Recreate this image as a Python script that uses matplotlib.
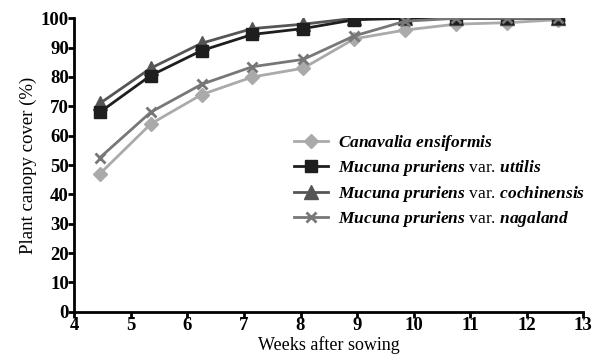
import matplotlib
matplotlib.use("Agg")
import matplotlib.pyplot as plt

weeks = [4.45, 5.35, 6.25, 7.15, 8.05, 8.95, 9.85, 10.75, 11.65, 12.55]
canavalia = [47, 64, 74, 80, 83, 93, 96, 98, 98.5, 99.5]
uttilis = [68, 80.5, 89, 94.5, 96.5, 99.5, 100, 100, 100, 100]
cochinensis = [71, 83, 91.5, 96.5, 98, 100, 100, 100, 100, 100]
nagaland = [52.5, 68, 77.5, 83.5, 86, 94, 99, 100, 100, 100]

labels = [
    r"$\mathit{Canavalia\ ensiformis}$",
    r"$\mathit{Mucuna\ pruriens}$ var. $\mathit{uttilis}$",
    r"$\mathit{Mucuna\ pruriens}$ var. $\mathit{cochinensis}$",
    r"$\mathit{Mucuna\ pruriens}$ var. $\mathit{nagaland}$",
]
xticks = list(range(4, 14))
yticks = list(range(0, 101, 10))

plt.rcParams['font.family'] = ['Liberation Serif', 'DejaVu Serif']
plt.rcParams['mathtext.fontset'] = 'custom'
plt.rcParams['mathtext.rm'] = 'Liberation Serif:bold'
plt.rcParams['mathtext.it'] = 'Liberation Serif:italic:bold'

fig = plt.figure(figsize=(6.1, 3.63), dpi=100)
ax = fig.add_axes([0.122, 0.1413, 0.834, 0.8083])

ax.plot(weeks, canavalia, color='#aaaaaa', lw=2, marker='D', ms=7, label=labels[0], zorder=3)
ax.plot(weeks, uttilis, color='#1e1e1e', lw=2, marker='s', ms=9, label=labels[1], zorder=4)
ax.plot(weeks, cochinensis, color='#555555', lw=2, marker='^', ms=10, label=labels[2], zorder=3)
ax.plot(weeks, nagaland, color='#777777', lw=2, marker='x', ms=7, mew=2, label=labels[3], zorder=5)

ax.set_xlim(4, 13)
ax.set_ylim(0, 100)
ax.set_xticks(xticks)
ax.set_yticks(yticks)
ax.tick_params(labelsize=13.5, width=2, length=4, direction='out')
for t in ax.get_xticklabels() + ax.get_yticklabels():
    t.set_fontweight('bold')
ax.spines['top'].set_visible(False)
ax.spines['right'].set_visible(False)
ax.spines['left'].set_linewidth(2)
ax.spines['bottom'].set_linewidth(2)
ax.tick_params(axis='x', pad=0)
ax.tick_params(axis='y', pad=0)

ax.set_xlabel('Weeks after sowing', fontsize=13, labelpad=1)
ax.set_ylabel('Plant canopy cover (%)', fontsize=13.5, labelpad=3)

leg = ax.legend(loc='upper left', bbox_to_anchor=(0.417, 0.632), frameon=False,
                fontsize=12.5, handlelength=2.0, handletextpad=0.55,
                labelspacing=0.3, borderaxespad=0)

fig.savefig('out.png', dpi=100)
